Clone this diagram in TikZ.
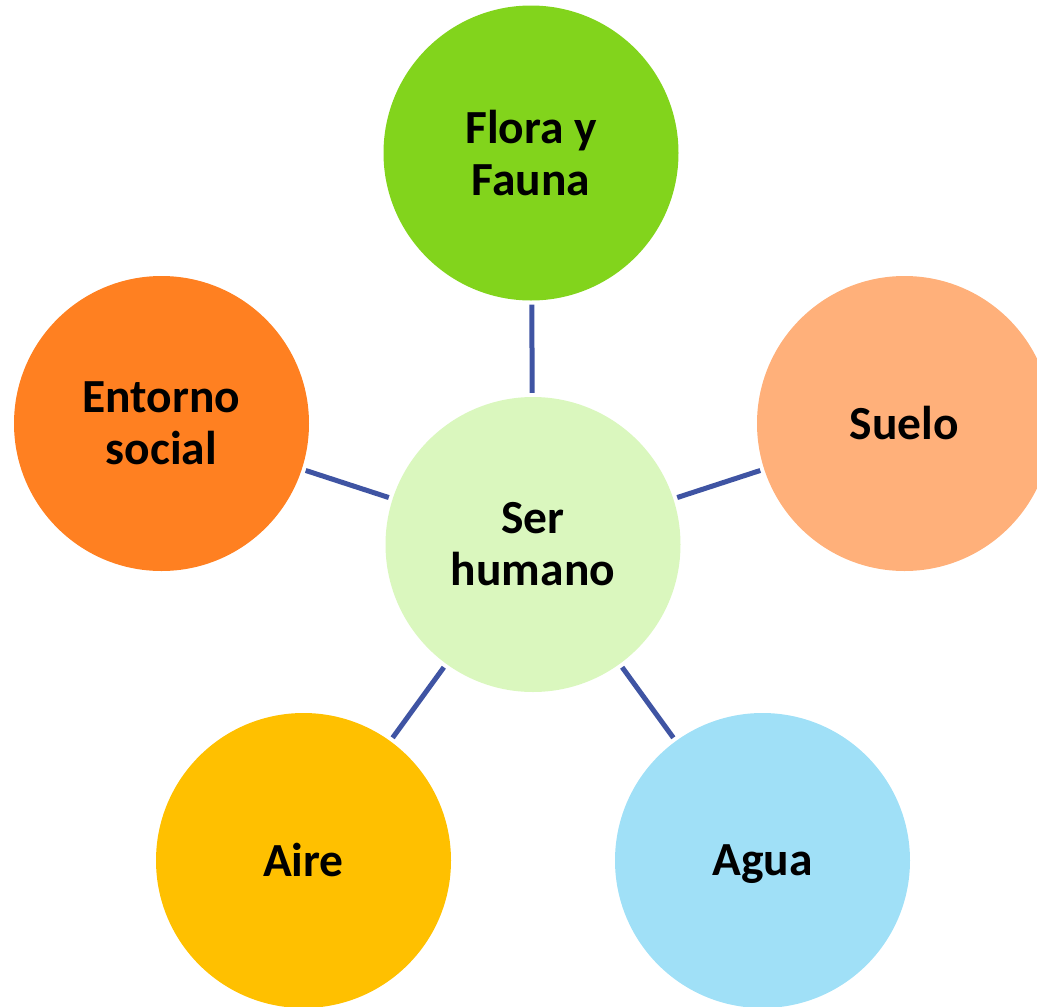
\documentclass[tikz,border=0pt]{standalone}
\usepackage{fontspec}
\setmainfont{Carlito}
\begin{document}
\begin{tikzpicture}[x=1pt,y=-1pt,
  bubble/.style={circle, minimum size=295pt, inner sep=0pt, draw=none,
    font=\fontsize{47.5}{52}\selectfont\bfseries, align=center, text=black},
  link/.style={draw=linkblue, line width=5pt, shorten <=4pt, shorten >=4pt}]
\definecolor{linkblue}{HTML}{3F54A3}
\definecolor{cflora}{HTML}{82D41C}
\definecolor{cser}{HTML}{DAF7BE}
\definecolor{centorno}{HTML}{FF8021}
\definecolor{csuelo}{HTML}{FFB07A}
\definecolor{caire}{HTML}{FFC000}
\definecolor{cagua}{HTML}{A0E0F7}
\useasboundingbox (0,0) rectangle (1037,1007);
\node[bubble, fill=cser] (ser) at (533,544.5) {Ser\\humano};
\node[bubble, fill=cflora] (flora) at (531,153) {Flora y\\Fauna};
\node[bubble, fill=centorno] (entorno) at (161.5,423.5) {Entorno\\social};
\node[bubble, fill=csuelo] (suelo) at (904.5,423.5) {Suelo};
\node[bubble, fill=caire] (aire) at (303.5,860.5) {Aire};
\node[bubble, fill=cagua, text depth=0pt] (agua) at (762.5,860.5) {Agua};
\draw[link] (ser) -- (flora);
\draw[link] (ser) -- (entorno);
\draw[link] (ser) -- (suelo);
\draw[link] (ser) -- (aire);
\draw[link] (ser) -- (agua);
\end{tikzpicture}
\end{document}
